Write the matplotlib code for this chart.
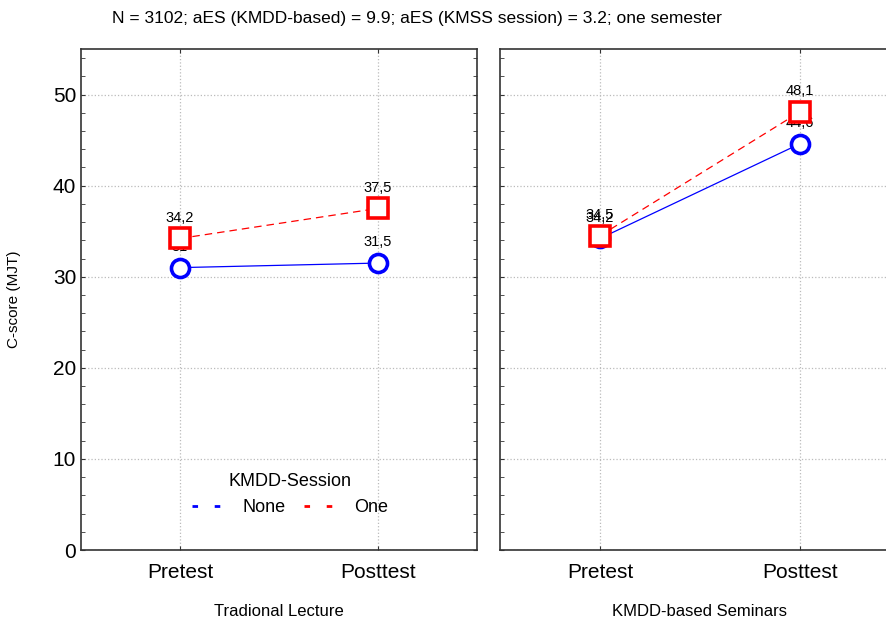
import numpy as np
from matplotlib import pyplot as plt
from matplotlib.ticker import MultipleLocator
from matplotlib.lines import Line2D

plt.rcParams['font.family'] = ['Liberation Sans', 'DejaVu Sans']

times = ['Pretest', 'Posttest']
panels = ['Tradional Lecture', 'KMDD-based Seminars']
none_vals = [[31.0, 31.5], [34.2, 44.6]]
one_vals = [[34.2, 37.5], [34.5, 48.1]]
none_labels = [['31', '31,5'], ['34,2', '44,6']]
one_labels = [['34,2', '37,5'], ['34,5', '48,1']]
title = 'N = 3102; aES (KMDD-based) = 9.9; aES (KMSS session) = 3.2; one semester'

fig = plt.figure(figsize=(8.87, 6.23), dpi=100)
ax_l = fig.add_axes([81/887, 73/623, 396/887, 501/623])
# right panel is cut off by the figure edge, as in the original
ax_r = fig.add_axes([500/887, 73/623, 387/887, 501/623])

x = np.array([0, 1])
for i, ax in enumerate([ax_l, ax_r]):
    ax.plot(x, none_vals[i], color='blue', lw=0.9, zorder=3,
            marker='o', ms=13, mfc='white', mec='blue', mew=2.6)
    ax.plot(x, one_vals[i], color='red', lw=0.9, ls=(0, (6, 4)), zorder=4,
            marker='s', ms=14, mfc='white', mec='red', mew=2.6)
    for xi, v, lab in zip(x, none_vals[i], none_labels[i]):
        ax.annotate(lab, (xi, v), xytext=(0, 15), textcoords='offset points',
                    ha='center', va='center', fontsize=10.5, zorder=2)
    for xi, v, lab in zip(x, one_vals[i], one_labels[i]):
        ax.annotate(lab, (xi, v), xytext=(0, 15), textcoords='offset points',
                    ha='center', va='center', fontsize=10.5, zorder=2)

    ax.set_ylim(0, 55)
    ax.set_xticks(x)
    ax.set_xticklabels(times, fontsize=15)
    ax.yaxis.set_major_locator(MultipleLocator(10))
    ax.yaxis.set_minor_locator(MultipleLocator(2))
    ax.tick_params(axis='both', which='both', direction='in', length=3,
                   left=True, right=True, top=True, bottom=True, color='#333333')
    ax.tick_params(axis='y', labelsize=15)
    ax.tick_params(axis='x', pad=9)
    ax.grid(True, which='major', ls=':', color='#bbbbbb', lw=0.9)
    ax.set_axisbelow(True)
    for sp in ax.spines.values():
        sp.set_color('#333333')
        sp.set_linewidth(1.2)

ax_l.set_xlim(-0.5, 1.5)
ax_r.set_xlim(-0.5, 1.435)
ax_l.set_xlabel(panels[0], fontsize=12, labelpad=16)
ax_r.set_xlabel(panels[1], fontsize=12, labelpad=16, x=200/387)

ax_r.spines['right'].set_visible(False)
ax_r.tick_params(axis='y', which='both', labelleft=False, right=False)
ax_l.set_ylabel('C-score (MJT)', fontsize=11, labelpad=23)

handles = [Line2D([], [], color='blue', lw=2, ls=(0, (2, 6))),
           Line2D([], [], color='red', lw=2, ls=(0, (2, 6)))]
leg = ax_l.legend(handles, ['None', 'One'], title='KMDD-Session', ncol=2,
                  frameon=False, fontsize=13, title_fontsize=13,
                  loc='lower left', bbox_to_anchor=(0.24, 0.035),
                  handlelength=2.2, columnspacing=1.0, handletextpad=0.6)

fig.text(0.47, 0.97, title, ha='center', va='center', fontsize=12.5)

fig.savefig('out.png', dpi=100)
